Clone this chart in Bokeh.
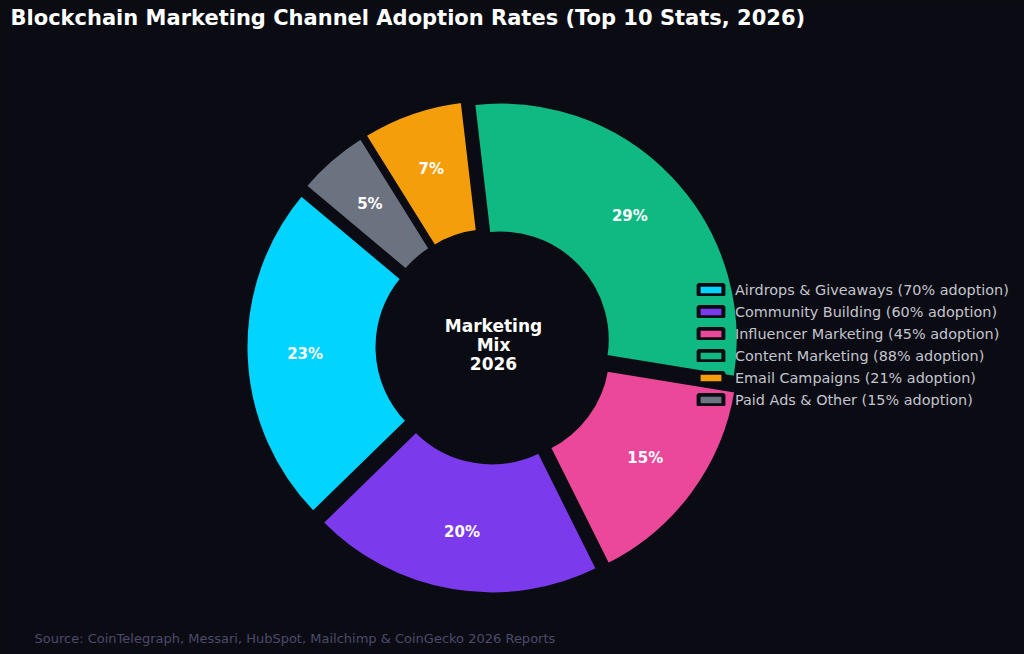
import math
from bokeh.plotting import figure
from bokeh.models import ColumnDataSource, Range1d, Label, Legend, LegendItem
from bokeh.core.properties import value
from bokeh.embed import file_html
from bokeh.resources import INLINE

channels = ["Airdrops & Giveaways", "Community Building", "Influencer Marketing",
            "Content Marketing", "Email Campaigns", "Paid Ads & Other"]
adoption = [70, 60, 45, 88, 21, 15]
colors = ["#00d4ff", "#7c3aed", "#ec4899", "#10b981", "#f59e0b", "#6b7280"]
legend_labels = [f"{c} ({v}% adoption)" for c, v in zip(channels, adoption)]

BG = "#0b0c13"
W, H = 1024, 654
CX, CY = 493, 654 - 346
R_OUT, R_IN = 238, 106
EXPLODE = 10
START = 140.0

p = figure(width=W, height=H, output_backend="svg", toolbar_location=None,
           x_range=Range1d(0, W), y_range=Range1d(0, H), min_border=0,
           background_fill_color=BG, border_fill_color=BG, outline_line_color=None)
p.axis.visible = False
p.grid.visible = False

total = sum(adoption)
items = []
lab_x, lab_y, lab_t = [], [], []
ang = START
for name, v, col, lbl in zip(channels, adoption, colors, legend_labels):
    span = v / total * 360.0
    a0, a1 = ang, ang + span
    mid = math.radians((a0 + a1) / 2)
    ox = CX + EXPLODE * math.cos(mid)
    oy = CY + EXPLODE * math.sin(mid)
    r = p.annular_wedge(x=ox, y=oy, inner_radius=R_IN, outer_radius=R_OUT,
                        start_angle=math.radians(a0), end_angle=math.radians(a1),
                        fill_color=col, line_color=BG, line_width=4)
    items.append(LegendItem(label=lbl, renderers=[r]))
    lab_x.append(ox + 0.75 * R_OUT * math.cos(mid))
    lab_y.append(oy + 0.75 * R_OUT * math.sin(mid))
    lab_t.append(f"{v / total * 100:.0f}%")
    ang = a1

src = ColumnDataSource(dict(x=lab_x, y=lab_y, t=lab_t))
p.text(x="x", y="y", text="t", source=src, text_color="white",
       text_font=value("DejaVu Sans"), text_font_style="bold", text_font_size="15px",
       text_align="center", text_baseline="middle")

for txt, yy in zip(["Marketing", "Mix", "2026"], [325.5, 344, 362.5]):
    p.add_layout(Label(x=CX, y=H - yy, text=txt, text_color="white",
                       text_font="DejaVu Sans", text_font_style="bold",
                       text_font_size="17px", text_align="center",
                       text_baseline="middle"))

p.add_layout(Label(x=10, y=H - 5, x_units="screen", y_units="screen",
                   text="Blockchain Marketing Channel Adoption Rates (Top 10 Stats, 2026)",
                   text_color="white", text_font="DejaVu Sans", text_font_style="bold",
                   text_font_size="21px", text_align="left", text_baseline="top"))

p.add_layout(Label(x=34, y=H - 638, x_units="screen", y_units="screen",
                   text="Source: CoinTelegraph, Messari, HubSpot, Mailchimp & CoinGecko 2026 Reports",
                   text_color="#4b4a6a", text_font="DejaVu Sans",
                   text_font_size="13px", text_align="left", text_baseline="middle"))

legend = Legend(items=items, location=(695, 246), padding=0, margin=0,
                background_fill_alpha=0, border_line_alpha=0,
                label_text_color="#c4c4ce", label_text_font="DejaVu Sans",
                label_text_font_size="14.4px", glyph_width=31, glyph_height=13,
                label_height=17, spacing=5, label_standoff=9)
p.add_layout(legend)

html = file_html(p, INLINE)
html = html.replace("<head>", "<head><style>html,body{margin:0;padding:0;background:#0b0c13;}</style>", 1)
open("out.html", "w").write(html)
